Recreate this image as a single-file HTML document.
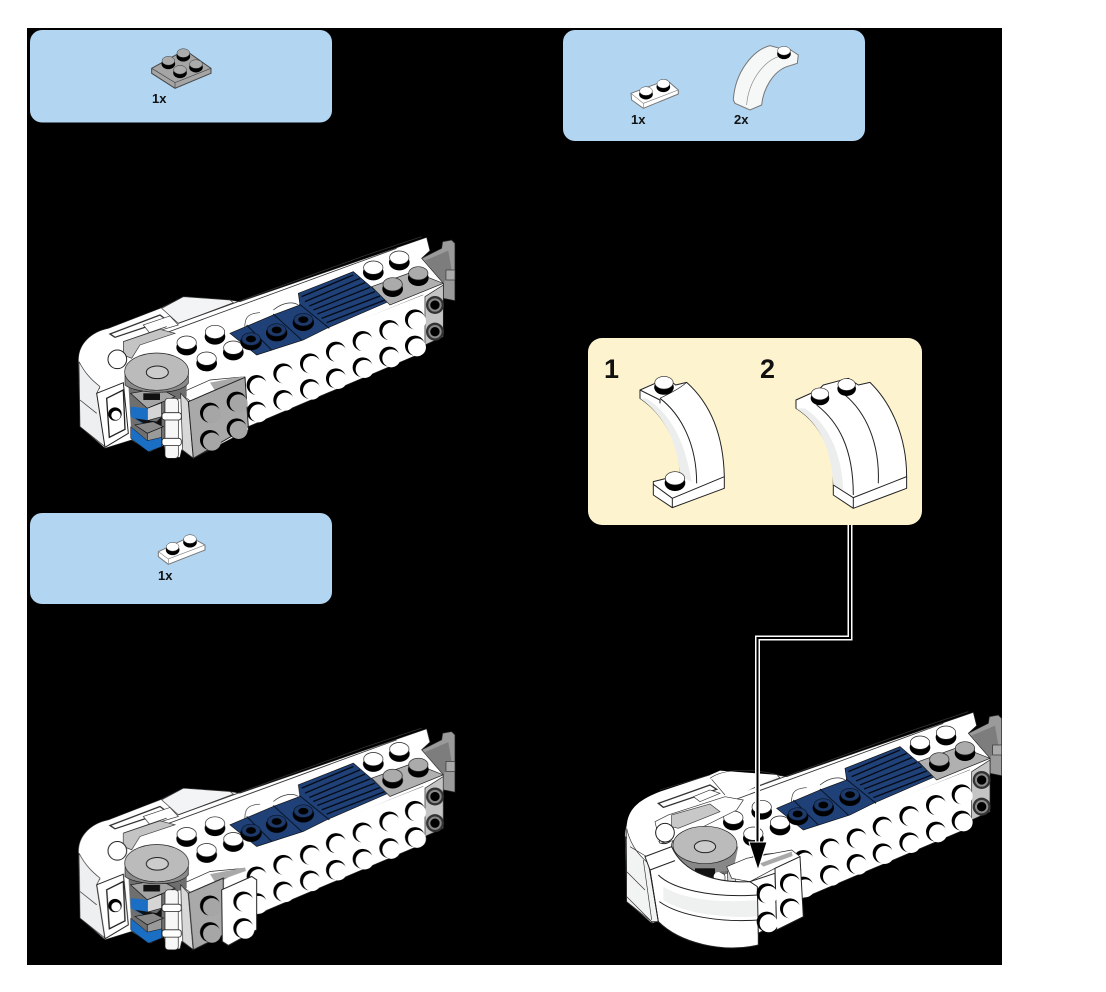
<!DOCTYPE html>
<html><head><meta charset="utf-8"><style>
html,body{margin:0;padding:0;background:#fff}
svg{display:block}
text{font-family:"Liberation Sans",sans-serif;font-weight:bold;fill:#111}
.m{filter:blur(.35px)}
</style></head><body>
<svg width="1106" height="992" viewBox="0 0 1106 992" xmlns="http://www.w3.org/2000/svg">
<defs>
<g id="ts"><ellipse cx="0" cy="7" rx="31" ry="24" fill="#000"/><ellipse cx="0" cy="-7" rx="29" ry="20" fill="#fff" stroke="#222" stroke-width="2"/></g>
<g id="tg"><ellipse cx="0" cy="7" rx="31" ry="24" fill="#000"/><ellipse cx="0" cy="-7" rx="29" ry="20" fill="#ababab" stroke="#222" stroke-width="2"/></g>
<g id="tb"><ellipse cx="0" cy="6" rx="32" ry="25" fill="#000"/><ellipse cx="0" cy="-3" rx="28" ry="19" fill="#1d3a6b" stroke="#0a1528" stroke-width="2"/><ellipse cx="0" cy="-3" rx="15" ry="10" fill="#000"/></g>
<g id="ss"><circle r="30" fill="#000"/><ellipse cx="6" cy="5" rx="27" ry="27" fill="#fff"/></g>
<g id="sg"><circle r="30" fill="#000"/><ellipse cx="6" cy="5" rx="27" ry="27" fill="#a6a6a6"/></g>
<g id="hole"><circle r="27" fill="#333"/><circle r="20" fill="#8a8a8a"/><circle r="14" fill="#000"/></g>

<g id="base">
  <path d="M1085,85 L1145,55 L1148,35 L1175,30 L1185,40 L1185,212 L1150,205 L1150,160 Z" fill="#9a9a9a" stroke="#222" stroke-width="2"/>
  <path d="M1095,92 L1165,62 L1175,120 L1150,160 Z" fill="#7d7d7d"/>
  <rect x="1158" y="120" width="27" height="30" fill="#aaa" stroke="#333" stroke-width="2"/>
  <path d="M55,390 C55,340 95,305 145,295 L300,235 L370,200 L510,210 L540,215 L1100,22 L1110,62 L1085,85 L1150,160 L1150,320 L1095,345 L1095,365 L565,590 L565,600 L400,685 L365,660 L360,682 L320,685 L310,640 L270,665 L215,630 L135,655 L60,590 Z" fill="#fff" stroke="#222" stroke-width="2"/>
  <path d="M305,235 L370,200 L510,210 L520,218 L355,280 Z" fill="#f2f4f5" stroke="#333" stroke-width="2"/>
  <path d="M150,312 L300,255 L320,270 L165,322 Z" fill="#fff" stroke="#333" stroke-width="4"/>
  <path d="M250,285 L330,258 L355,285 L270,310 Z" fill="#fff" stroke="#333" stroke-width="2"/>
  <path d="M355,280 L920,75 M300,315 L1010,55 M920,75 L1085,20 M360,490 L1090,195 M190,335 L320,290 M55,460 L120,475" stroke="#333" stroke-width="2.5" fill="none"/>
  <path d="M190,335 L300,298 L345,310 L240,345 L215,385 L190,375 Z" fill="#c4c4c4" stroke="#333" stroke-width="2"/>
  <ellipse cx="172" cy="388" rx="28" ry="28" fill="#fff" stroke="#222" stroke-width="3"/>
  <path d="M555,305 C552,265 560,250 600,248 M640,240 C670,215 700,215 715,225" stroke="#333" stroke-width="2" fill="none"/>
  <path d="M510,310 L640,255 L720,225 L715,190 L880,125 L985,215 L800,295 L730,330 L590,375 Z" fill="#1f4178" stroke="#111" stroke-width="2"/>
  <path d="M560,285 L635,360 M640,252 L725,330 M718,222 L808,295" stroke="#0a1528" stroke-width="3" fill="none"/>
  <path d="M725,200 L880,135 M735,215 L900,145 M748,228 L915,158 M760,240 L930,172 M772,252 L945,185 M785,265 L960,198 M800,278 L975,210" stroke="#050b16" stroke-width="4" fill="none"/>
  <path d="M935,170 L1060,125 L1150,160 L990,225 Z" fill="#b0b0b0" stroke="#222" stroke-width="2"/>
  <path d="M440,450 L1090,195 L1095,205 L1095,345 L565,570 Z" fill="#fff"/>
  <path d="M360,490 L450,450 L555,440 L400,520 Z" fill="#fff" stroke="#222" stroke-width="2"/>
  <path d="M450,458 L555,438 L558,448 L465,482 Z" fill="#a9a9a9"/>
  <path d="M1095,200 L1150,165 L1150,320 L1095,345 Z" fill="#c4c4c4" stroke="#222" stroke-width="2"/>
  <use href="#hole" x="1125" y="225"/><use href="#hole" x="1125" y="305"/>
  <use href="#ts" x="380" y="345"/><use href="#ts" x="465" y="313"/><use href="#ts" x="520" y="360"/><use href="#ts" x="440" y="393"/>
  <use href="#ts" x="940" y="120"/><use href="#ts" x="1018" y="90"/><use href="#tg" x="998" y="170"/><use href="#tg" x="1075" y="137"/>
  <use href="#tb" x="573" y="330"/><use href="#tb" x="650" y="303"/><use href="#tb" x="730" y="272"/>
  <use href="#ss" x="590" y="465"/><use href="#ss" x="670" y="430"/><use href="#ss" x="750" y="400"/><use href="#ss" x="828" y="365"/><use href="#ss" x="908" y="333"/><use href="#ss" x="988" y="300"/><use href="#ss" x="1065" y="268"/>
  <use href="#ss" x="590" y="545"/><use href="#ss" x="670" y="510"/><use href="#ss" x="750" y="477"/><use href="#ss" x="828" y="445"/><use href="#ss" x="908" y="412"/><use href="#ss" x="988" y="380"/><use href="#ss" x="1065" y="347"/>
  <path d="M57,395 C75,430 95,450 120,470 L110,490 L135,650 L60,590 Z" fill="#eeeff0" stroke="#333" stroke-width="2"/>
  <path d="M60,510 L110,550" stroke="#333" stroke-width="2"/>
  <path d="M110,490 L190,458 L205,610 L135,652 Z" fill="#fff" stroke="#222" stroke-width="3"/>
  <path d="M140,505 L190,480 L195,598 L148,622 Z" fill="#fff" stroke="#222" stroke-width="4"/>
  <circle cx="165" cy="552" r="20" fill="#000"/><circle cx="168" cy="556" r="14" fill="#fff"/>
  <path d="M205,460 L380,460 L380,500 L350,510 L350,620 L305,650 L270,665 L215,630 Z" fill="#6f6f6f"/>
  <path d="M212,490 L262,535 L345,500 L300,475 Z" fill="#a5a5a5" stroke="#111" stroke-width="2"/>
  <path d="M262,535 L305,518 L305,560 L262,572 Z" fill="#d5d5d5" stroke="#111" stroke-width="2"/>
  <path d="M212,530 L262,535 L262,575 L212,555 Z" fill="#1a6fc4"/>
  <path d="M212,535 L262,572 L290,575 L305,560 L305,580 L265,590 L212,560 Z" fill="#1a6fc4"/>
  <path d="M225,565 L290,575 L305,560 L305,585 L260,585 Z" fill="#111"/>
  <path d="M225,585 L280,575 L310,590 L262,610 Z" fill="#8a8a8a" stroke="#111" stroke-width="2"/>
  <path d="M262,610 L305,592 L305,625 L262,635 Z" fill="#9a9a9a" stroke="#111" stroke-width="2"/>
  <path d="M212,590 L262,632 L305,622 L305,650 L265,665 L212,625 Z" fill="#1a6fc4" stroke="#111" stroke-width="1.5"/>
  <rect x="250" y="490" width="50" height="20" fill="#111"/>
  <path d="M195,425 L195,465 C225,490 355,500 385,460 L385,425 Z" fill="#8a8a8a" stroke="#222" stroke-width="2"/>
  <ellipse cx="290" cy="425" rx="96" ry="56" fill="#bbb" stroke="#222" stroke-width="2"/>
  <ellipse cx="292" cy="427" rx="33" ry="19" fill="#ccc" stroke="#222" stroke-width="3"/>
  <rect x="315" y="505" width="40" height="180" rx="10" fill="#f7f7f7" stroke="#222" stroke-width="2"/>
  <rect x="306" y="548" width="58" height="22" rx="8" fill="#fff" stroke="#222" stroke-width="2.5"/>
  <rect x="306" y="625" width="58" height="22" rx="8" fill="#fff" stroke="#222" stroke-width="2.5"/>
  <path d="M362,490 L385,515 L400,685 L368,660 Z" fill="#d8d8d8" stroke="#222" stroke-width="2"/>
</g>
</defs>

<rect width="1106" height="992" fill="#fff"/>
<rect x="27" y="28" width="975" height="937" fill="#000"/>

<rect x="30" y="30" width="302" height="92.5" rx="12" fill="#b2d6f1"/>
<rect x="563" y="30" width="302" height="111" rx="12" fill="#b2d6f1"/>
<rect x="30" y="513" width="302" height="91" rx="12" fill="#b2d6f1"/>
<rect x="588" y="338" width="334" height="187" rx="14" fill="#fdf3cf"/>

<g class="m">
<g transform="translate(130,40) scale(.3333)">
  <path d="M65,85 L165,30 L243,85 L243,100 L135,145 L65,100 Z" fill="#a5a5a5" stroke="#444" stroke-width="3"/>
  <path d="M65,85 L135,128 L243,85 M135,128 L135,145" stroke="#444" stroke-width="2" fill="none"/>
  <g transform="translate(160,44) scale(.66)"><use href="#tg"/></g>
  <g transform="translate(115,67) scale(.66)"><use href="#tg"/></g>
  <g transform="translate(198,77) scale(.66)"><use href="#tg"/></g>
  <g transform="translate(150,94) scale(.66)"><use href="#tg"/></g>
</g>

<g transform="translate(560,25) scale(.3333)">
  <path d="M213,205 L320,165 L355,195 L355,207 L250,250 L215,225 Z" fill="#fff" stroke="#777" stroke-width="3"/>
  <path d="M213,205 L250,235 L355,195 M250,235 L250,250" stroke="#888" stroke-width="2" fill="none"/>
  <g transform="translate(258,203) scale(.66)"><use href="#ts"/></g>
  <g transform="translate(310,181) scale(.66)"><use href="#ts"/></g>
  <path d="M520,225 C525,140 580,75 630,62 L660,70 L685,70 L715,90 L712,115 L680,125 C640,140 610,190 605,240 L570,255 L525,235 Z" fill="#f6f7f7" stroke="#777" stroke-width="3"/>
  <path d="M560,240 C565,170 610,110 655,95" stroke="#888" stroke-width="2" fill="none"/>
  <g transform="translate(672,82) scale(.66)"><use href="#ts"/></g>
</g>

<g transform="translate(130,525) scale(.3333)">
  <path d="M85,80 L180,35 L225,60 L225,75 L115,118 L85,95 Z" fill="#fff" stroke="#777" stroke-width="3"/>
  <path d="M85,80 L115,102 L225,60 M115,102 L115,118" stroke="#888" stroke-width="2" fill="none"/>
  <g transform="translate(128,70) scale(.66)"><use href="#ts"/></g>
  <g transform="translate(180,47) scale(.66)"><use href="#ts"/></g>
</g>

<g transform="translate(585,335) scale(.3333)" stroke-linejoin="round">
  <path d="M165,165 L245,130 L272,150 L305,142 C370,200 415,290 418,425 L418,460 L262,518 L205,480 L205,440 L285,420 C285,330 240,240 165,190 Z" fill="#fff" stroke="#222" stroke-width="3"/>
  <path d="M185,190 C260,240 300,320 320,440 L285,425 C280,330 240,240 165,190 Z" fill="#eceded"/>
  <path d="M225,190 C290,240 335,330 335,445" stroke="#222" stroke-width="3" fill="none"/>
  <path d="M225,190 C255,175 285,160 305,142" stroke="#222" stroke-width="2" fill="none"/>
  <path d="M165,165 L225,195 L225,205 M205,448 L262,490 L418,425 M262,490 L262,518" stroke="#222" stroke-width="3" fill="none"/>
  <g transform="translate(237,150) scale(.95)"><use href="#ts"/></g>
  <g transform="translate(270,437) scale(1)"><use href="#ts"/></g>
</g>
<g transform="translate(585,335) scale(.3333)" stroke-linejoin="round">
  <path d="M633,195 L700,165 L715,150 L790,130 L820,150 L855,142 C915,200 965,300 965,425 L965,460 L805,520 L745,480 L745,420 C740,340 700,260 633,220 Z" fill="#fff" stroke="#222" stroke-width="3"/>
  <path d="M660,220 C720,260 770,340 775,465 L745,450 C740,340 700,260 633,220 Z" fill="#eceded"/>
  <path d="M695,210 C760,260 805,340 805,480 M780,180 C840,230 885,320 880,445" stroke="#222" stroke-width="3" fill="none"/>
  <path d="M745,450 L805,488 L965,425 M805,488 L805,520" stroke="#222" stroke-width="3" fill="none"/>
  <g transform="translate(705,183) scale(.9)"><use href="#ts"/></g>
  <g transform="translate(785,155) scale(.9)"><use href="#ts"/></g>
</g>

<g transform="translate(60,230) scale(.3333)">
  <use href="#base"/>
  <path d="M385,515 L555,442 L565,590 L400,685 Z" fill="#a9a9a9" stroke="#222" stroke-width="3"/>
  <use href="#sg" x="450" y="548"/><use href="#sg" x="530" y="515"/><use href="#sg" x="450" y="630"/><use href="#sg" x="530" y="595"/>
</g>

<g transform="translate(60,721.5) scale(.3333)">
  <use href="#base"/>
  <path d="M385,515 L490,470 L490,640 L400,685 Z" fill="#a9a9a9" stroke="#222" stroke-width="3"/>
  <use href="#sg" x="450" y="552"/><use href="#sg" x="450" y="632"/>
  <path d="M485,505 L575,465 L590,475 L590,625 L505,672 L487,660 Z" fill="#fff" stroke="#222" stroke-width="3"/>
  <use href="#ss" x="550" y="540"/><use href="#ss" x="550" y="620"/>
</g>

<g transform="translate(606.7,705) scale(.3333)">
  <use href="#base"/>
</g>
<g transform="translate(610,700) scale(.3333)">
  <path d="M50,385 C50,320 100,295 150,275 L300,225 L330,212 L505,225 L300,330 L190,345 C130,370 125,405 150,430 L195,480 L120,510 L50,520 Z" fill="#fff"/>
  <path d="M145,310 L300,255 L320,268 L160,322 Z" stroke="#333" stroke-width="4" fill="#fff"/>
  <path d="M250,290 L300,270 L330,280 L270,305 Z" fill="#fff" stroke="#333" stroke-width="2"/>
  <path d="M300,235 C340,205 430,205 505,225" stroke="#333" stroke-width="2" fill="none"/>
  <path d="M150,270 L300,225 M305,238 L345,285" stroke="#333" stroke-width="2" fill="none"/>
  <path d="M135,365 L175,345 L345,290 L400,300 L380,330 L200,420 L150,430 Z" fill="#fff" stroke="#333" stroke-width="2"/>
  <path d="M185,345 L300,312 L330,335 L205,385 L185,380 Z" fill="#c8c8c8" stroke="#333" stroke-width="2"/>
  <ellipse cx="165" cy="398" rx="28" ry="28" fill="#fff" stroke="#222" stroke-width="3"/>
  <path d="M190,435 L190,470 L270,525 L370,510 L385,440 Z" fill="#888"/>
  <ellipse cx="285" cy="435" rx="96" ry="56" fill="#bbb" stroke="#222" stroke-width="2"/>
  <ellipse cx="285" cy="440" rx="32" ry="18" fill="#ccc" stroke="#222" stroke-width="3"/>
  <rect x="255" y="505" width="60" height="30" fill="#111"/>
  <circle cx="325" cy="530" r="14" fill="#fff"/>
  <path d="M350,500 L410,475 L545,450 L570,470 L495,505 L420,545 L365,535 Z" fill="#fff" stroke="#222" stroke-width="2"/>
  <path d="M450,490 L545,455 L548,468 L460,500 Z" fill="#a9a9a9"/>
  <path d="M50,385 C60,430 80,460 115,490 L145,665 L125,665 L50,590 Z" fill="#f2f3f3" stroke="#333" stroke-width="2"/>
  <path d="M50,515 L105,570 M100,480 L125,660 M60,440 L110,470" stroke="#333" stroke-width="2" fill="none"/>
  <path d="M105,470 L185,440 C220,520 320,550 420,545 L445,560 L445,735 C340,760 210,730 145,665 L120,510 Z" fill="#fff" stroke="#222" stroke-width="3"/>
  <path d="M120,510 L195,482" stroke="#222" stroke-width="3"/>
  <path d="M145,525 C185,565 300,595 442,585 M148,605 C210,650 340,668 445,660 M120,510 L145,665" stroke="#222" stroke-width="3" fill="none"/>
  <path d="M160,560 C220,600 340,610 442,600 L442,650 C340,655 220,640 160,600 Z" fill="#eff0f0"/>
  <path d="M420,545 L495,520 L500,670 L445,700 L442,560 Z" fill="#fff" stroke="#222" stroke-width="3"/>
  <path d="M495,505 L570,470 L580,650 L500,690 Z" fill="#fff" stroke="#222" stroke-width="3"/>
  <use href="#ss" x="470" y="580"/><use href="#ss" x="470" y="665"/>
  <use href="#ss" x="540" y="550"/><use href="#ss" x="540" y="625"/>
</g>
</g>

<text x="152" y="103" font-size="13">1x</text>
<text x="631" y="124" font-size="13">1x</text>
<text x="734" y="124" font-size="13">2x</text>
<text x="158" y="580" font-size="13">1x</text>
<text x="604" y="378" font-size="27">1</text>
<text x="760" y="378" font-size="27">2</text>

<path d="M850,525 V638 H757.5 V845" fill="none" stroke="#fff" stroke-width="5"/>
<path d="M850,525 V638 H757.5 V845" fill="none" stroke="#000" stroke-width="2"/>
<path d="M749,842 H767 L758,870 Z" fill="#000" stroke="#fff" stroke-width="1"/>
</svg>
</body></html>
